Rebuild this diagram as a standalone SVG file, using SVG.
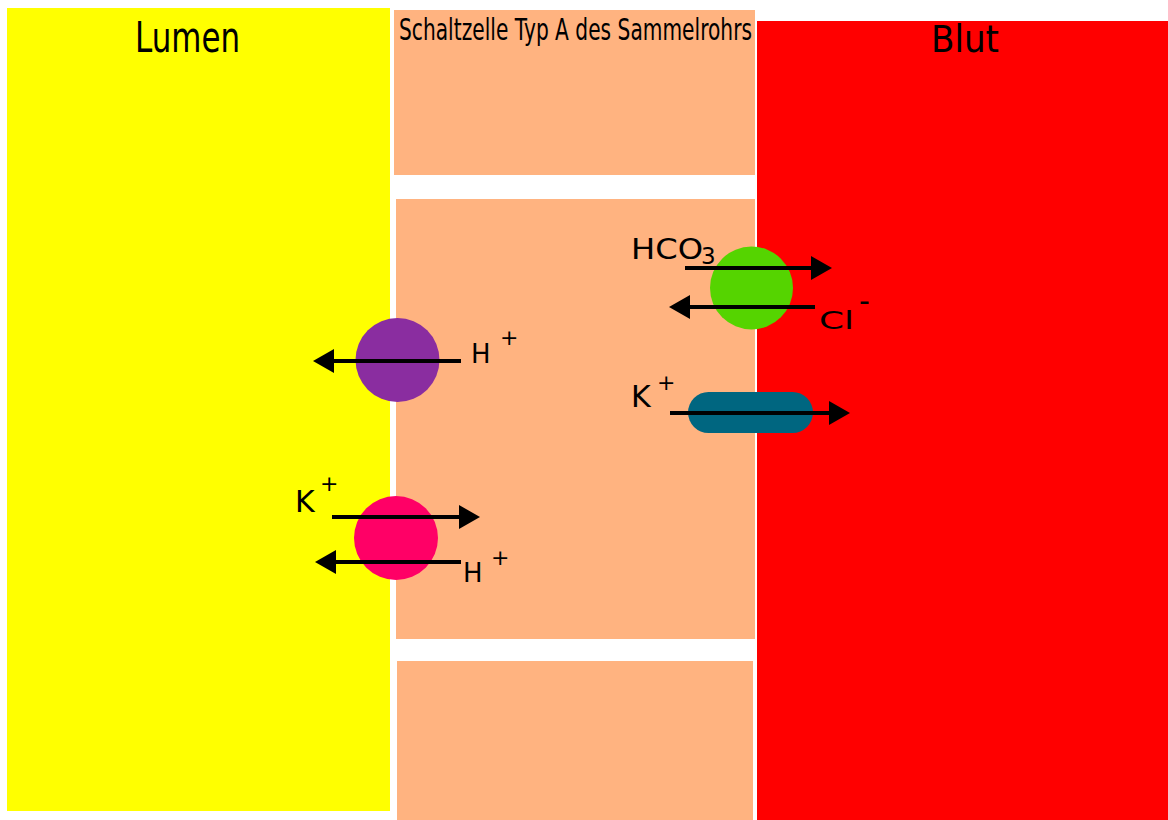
<svg xmlns="http://www.w3.org/2000/svg" width="1168" height="820" viewBox="0 0 1168 820">
<defs>
<style>
.lbl{font-family:"DejaVu Sans","Liberation Sans",sans-serif;fill:#000}
.sup{font-size:22px}
.arr{stroke:#000;stroke-width:4;fill:none;marker-end:url(#ah)}
.cell{fill:#FFB380}
</style>
<marker id="ah" markerUnits="userSpaceOnUse" markerWidth="24" markerHeight="26" refX="1" refY="12" orient="auto">
<path d="M0,0 L21,12 L0,24 Z" fill="#000"/>
</marker>
</defs>
<rect width="1168" height="820" fill="#fff"/>
<g id="lumen">
<rect x="7" y="8" width="383" height="803" fill="#FFFF00"/>
<text class="lbl" x="135" y="52" font-size="42" textLength="105" lengthAdjust="spacingAndGlyphs">Lumen</text>
</g>
<g id="blut">
<rect x="757" y="21" width="411" height="799" fill="#FF0000"/>
<text class="lbl" x="931" y="52" font-size="37" textLength="68" lengthAdjust="spacingAndGlyphs">Blut</text>
</g>
<g id="zelle-oben">
<rect class="cell" x="394" y="10" width="361" height="165"/>
<text class="lbl" x="399" y="40" font-size="30" textLength="353" lengthAdjust="spacingAndGlyphs">Schaltzelle Typ A des Sammelrohrs</text>
</g>
<g id="zelle-mitte">
<rect class="cell" x="396" y="199" width="359" height="440"/>
</g>
<g id="zelle-unten">
<rect class="cell" x="397" y="661" width="356" height="159"/>
</g>
<g id="protonenpumpe">
<circle cx="397.5" cy="360" r="42" fill="#8A2DA0"/>
</g>
<g id="kh-atpase">
<circle cx="396" cy="538" r="42" fill="#FF0066"/>
</g>
<g id="anionenaustauscher">
<circle cx="751.5" cy="288" r="41.5" fill="#55D400"/>
</g>
<g id="k-kanal">
<rect x="688" y="392" width="125" height="41" rx="20.5" fill="#006680"/>
</g>
<g id="connectors">
<line class="arr" x1="685" y1="268" x2="812" y2="268"/>
<line class="arr" x1="815" y1="307" x2="689" y2="307"/>
<line class="arr" x1="670" y1="413" x2="830" y2="413"/>
<line class="arr" x1="461" y1="361" x2="333" y2="361"/>
<line class="arr" x1="332" y1="517" x2="460" y2="517"/>
<line class="arr" x1="461" y1="562" x2="335" y2="562"/>
</g>
<g id="labels">
<text class="lbl" x="631" y="259" font-size="29" textLength="72" lengthAdjust="spacingAndGlyphs">HCO</text>
<text class="lbl" x="701" y="264" font-size="23">3</text>
<text class="lbl" x="819" y="329" font-size="24" textLength="35" lengthAdjust="spacingAndGlyphs">Cl</text>
<text class="lbl" x="859" y="311" font-size="30">-</text>
<text class="lbl" x="631" y="407" font-size="30">K</text>
<text class="lbl sup" x="657" y="390">+</text>
<text class="lbl" x="471" y="363" font-size="26">H</text>
<text class="lbl sup" x="500" y="345">+</text>
<text class="lbl" x="295" y="512" font-size="30">K</text>
<text class="lbl sup" x="320" y="491">+</text>
<text class="lbl" x="463" y="582" font-size="26">H</text>
<text class="lbl sup" x="491" y="565">+</text>
</g>
</svg>
